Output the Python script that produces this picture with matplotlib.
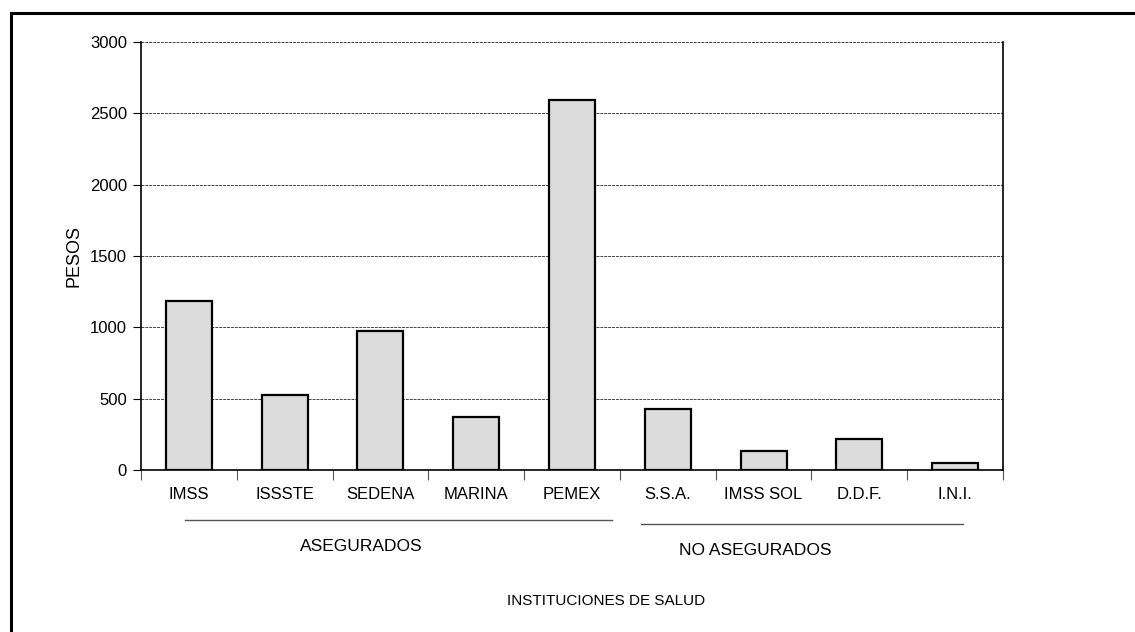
import matplotlib
matplotlib.use('Agg')
import matplotlib.pyplot as plt
from matplotlib import font_manager
from matplotlib.patches import Rectangle
import matplotlib.transforms as mtransforms

# --- Datos ---
instituciones = ['IMSS', 'ISSSTE', 'SEDENA', 'MARINA', 'PEMEX',
                 'S.S.A.', 'IMSS SOL', 'D.D.F.', 'I.N.I.']
pesos = [1185, 525, 975, 370, 2595, 425, 130, 215, 50]
grupos = ['ASEGURADOS', 'NO ASEGURADOS']
y_ticks = [0, 500, 1000, 1500, 2000, 2500, 3000]

# fuente estrecha si existe
nombres = {f.name for f in font_manager.fontManager.ttflist}
if 'Liberation Sans Narrow' in nombres:
    plt.rcParams['font.family'] = ['Liberation Sans Narrow', 'DejaVu Sans']
else:
    plt.rcParams['font.family'] = ['Liberation Sans', 'DejaVu Sans']

fig = plt.figure(figsize=(11.35, 6.32), dpi=100)
ax = fig.add_axes([141 / 1135, 1 - 470 / 632, (1003 - 141) / 1135, (470 - 42) / 632])

x = list(range(len(instituciones)))
ax.bar(x, pesos, width=0.48, color='#dcdcdc', edgecolor='black', linewidth=1.6, zorder=3)

ax.set_xlim(-0.5, len(instituciones) - 0.5)
ax.set_ylim(0, 3000)
ax.set_yticks(y_ticks)
ax.set_yticklabels([str(v) for v in y_ticks], fontsize=12)
ax.yaxis.grid(True, linestyle=(0, (3, 1)), color='#444444', linewidth=0.7, zorder=0)

# ticks del eje x en los limites de categoria
ax.set_xticks([i - 0.5 for i in range(len(instituciones) + 1)])
ax.set_xticklabels([])
ax.set_xticks(x, minor=True)
ax.set_xticklabels(instituciones, minor=True, fontsize=12)
ax.tick_params(axis='x', which='minor', length=0, pad=12)
ax.tick_params(axis='x', which='major', length=7, direction='out', color='#555555')
ax.tick_params(axis='y', length=6, direction='out', pad=4)

ax.spines['top'].set_visible(False)
for s in ['left', 'right', 'bottom']:
    ax.spines[s].set_linewidth(1.2)

ax.set_ylabel('PESOS', fontsize=13)
ax.yaxis.set_label_coords((82 - 141) / 862, (470 - 256) / 428)

# lineas de grupo y etiquetas
trans = mtransforms.blended_transform_factory(ax.transData, ax.transAxes)
ax.plot([-0.04, 4.42], [-0.117, -0.117], color='#555555', lw=1.0, transform=trans, clip_on=False)
ax.plot([4.72, 8.08], [-0.126, -0.126], color='#555555', lw=1.0, transform=trans, clip_on=False)
ax.text(1.80, -0.178, grupos[0], transform=trans, ha='center', va='center', fontsize=12.5)
ax.text(5.91, -0.189, grupos[1], transform=trans, ha='center', va='center', fontsize=12.5)

fig.text(606 / 1135, 1 - 601 / 632, 'INSTITUCIONES DE SALUD', ha='center', va='center', fontsize=11)

# marco exterior
fig.patches.append(Rectangle((11 / 1135, -0.1), 1.2, 1 - 13 / 632 + 0.1, transform=fig.transFigure,
                             fill=False, edgecolor='black', linewidth=2.2))

fig.savefig('out.png', dpi=100)
